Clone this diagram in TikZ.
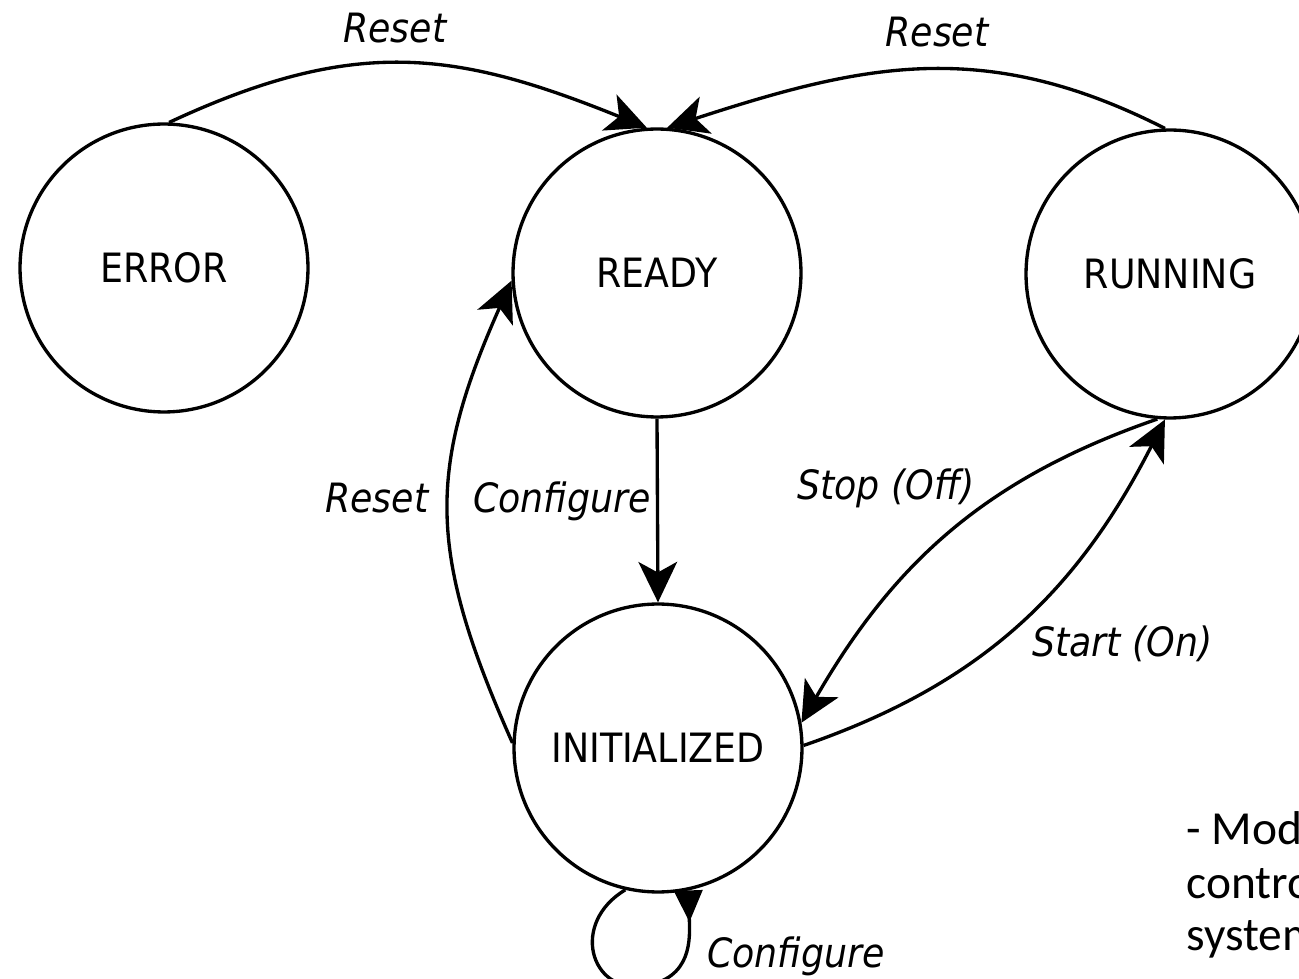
\documentclass[tikz,border=0pt]{standalone}
\usepackage{fontspec}
\setmainfont{DejaVu Sans Condensed}[ItalicFont={DejaVu Sans Condensed Oblique}]
\newfontfamily\notefont{Carlito}
\usetikzlibrary{arrows.meta}
\begin{document}
\begin{tikzpicture}[x=0.02cm,y=0.02cm,
  state/.style={circle, draw, line width=1.9pt, minimum size=5.76cm, inner sep=0pt, font=\fontsize{23}{28}\selectfont},
  edge/.style={line width=1.9pt, -{Stealth[length=23pt,width=22pt,inset=6pt]}},
  loopedge/.style={line width=1.9pt, -{Triangle[reversed,length=18pt,width=16pt]}},
  lbl/.style={inner sep=0pt, anchor=base west, font=\fontsize{23}{28}\selectfont\itshape},
  note/.style={inner sep=0pt, anchor=base west, font=\notefont\fontsize{27}{32}\selectfont}]
\useasboundingbox (0,0) rectangle (1299,978);
\clip (0,0) rectangle (1299,978);
\fill[white] (0,0) rectangle (1299,978);

\node[state] (E) at (164,710) {ERROR};
\node[state] (R) at (657,705) {READY};
\node[state] (RUN) at (1170,704) {RUNNING};
\node[state] (I) at (658,230) {INITIALIZED};

\draw[edge] (E.88) to[out=25,in=158,looseness=1.1] (R.94);
\draw[edge] (RUN.92) to[out=153,in=18,looseness=1.05] (R.86);
\draw[edge] (R.south) -- (I.north);
\draw[edge] (I.178) to[out=114,in=-114,looseness=1.15] (R.183);
\draw[edge] (I.1) to[out=19,in=243] (RUN.268);
\draw[edge] (RUN.265) to[out=199,in=60] (I.10);
\draw[loopedge] (I.257) .. controls (570,55) and (590,-15) .. (643,-8) .. controls (693,-1) and (690,40) .. (I.282);

\node[lbl] (l1) at (343,935) {Reset};
\node[lbl] (l2) at (885,931) {Reset};
\node[lbl] (l3) at (325,465) {Reset};
\node[lbl] (l4) at (473,465) {Configure};
\node[lbl] (l5) at (797,478) {Stop (Off)};
\node[lbl] (l6) at (1032,321) {Start (On)};
\node[lbl] (l7) at (707,11) {Configure};

\node[note] (n1) at (1186,133) {- Mod};
\node[note] (n2) at (1186,80) {contro};
\node[note] (n3) at (1186,28) {system};
\end{tikzpicture}
\end{document}
